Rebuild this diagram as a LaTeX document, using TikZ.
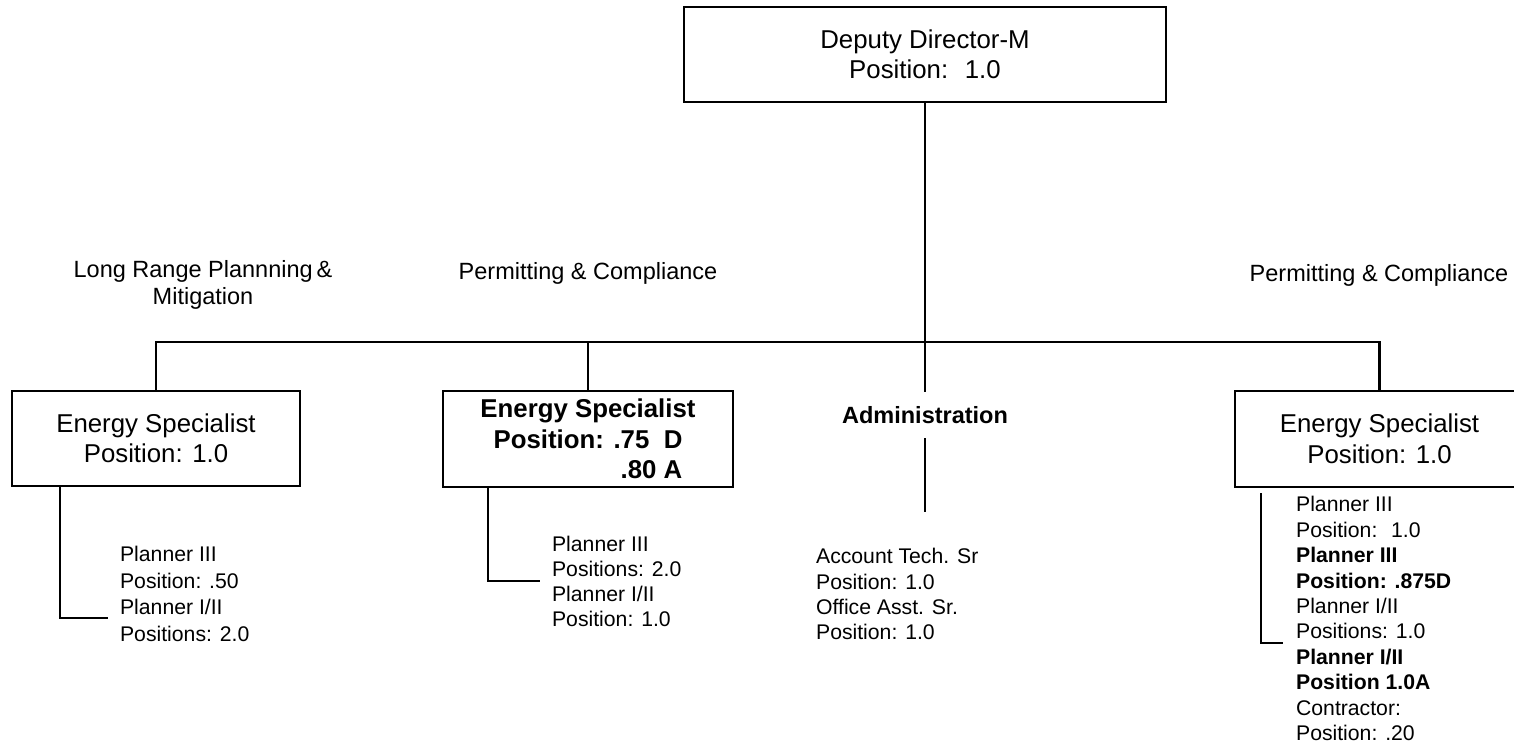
\documentclass[tikz,border=0pt]{standalone}
\usepackage{fontspec}
\usepackage{calc}
\setmainfont{Liberation Sans}
\begin{document}
\begin{tikzpicture}[x=1pt,y=-1pt,
  line width=2.2pt,
  post/.style={draw, rectangle, inner sep=0pt, align=center,
    font=\fontsize{25.8}{30.5}\selectfont},
  unit/.style={inner sep=0pt, anchor=north, align=center,
    font=\fontsize{23.5}{27}\selectfont},
  staff/.style={inner sep=0pt, anchor=north west, align=left,
    font=\fontsize{21.2}{25.4}\selectfont},
  ]
\useasboundingbox (0,0) rectangle (1514,744);

% director
\node[post, minimum width=482pt, minimum height=95pt] (dir) at (925,54.5)
  {Deputy Director-M\\Position:~ 1.0};

% unit headings
\node[unit] (lrpLabel) at (203,259.6) {Long Range Plannning\,\&\\Mitigation};
\node[unit] (pcLabelM) at (588,261.6) {Permitting \& Compliance};
\node[unit] (pcLabelR) at (1379,263.6) {Permitting \& Compliance};

% energy specialists
\node[post, minimum width=288pt, minimum height=95pt] (esL) at (156,438.5)
  {Energy Specialist\\Position: 1.0};
\node[post, minimum width=290pt, minimum height=96pt,
  font=\fontsize{25.8}{30.5}\selectfont\bfseries] (esM) at (588,439)
  {Energy Specialist\\Position: .75\ \ D\\
   \makebox[\widthof{Position: .75\ \ D}][r]{.80 A}};
\node[post, minimum width=289pt, minimum height=96pt] (esR) at (1379.5,439)
  {Energy Specialist\\Position: 1.0};

% administration
\node[inner xsep=0pt, inner ysep=13.5pt,
  font=\fontsize{23.5}{27}\selectfont\bfseries] (adm) at (925,415)
  {Administration};

% staff lists
\node[staff, font=\fontsize{21.2}{26.5}\selectfont] (plL) at (119,545.4)
  {Planner III\\Position: .50\\Planner I/II\\Positions: 2.0};
\node[staff, font=\fontsize{21.2}{25}\selectfont] (plM) at (551,535.4)
  {Planner III\\Positions: 2.0\\Planner I/II\\Position: 1.0};
\node[staff, font=\fontsize{21.2}{25.3}\selectfont] (admList) at (815,547.4)
  {Account Tech. Sr\\Position: 1.0\\Office Asst. Sr.\\Position: 1.0};
\node[staff] (plR) at (1295,495.4)
  {Planner III\\Position:~ 1.0\\\textbf{Planner III}\\\textbf{Position: .875D}\\
   Planner I/II\\Positions: 1.0\\\textbf{Planner I/II}\\\textbf{Position 1.0A}\\
   Contractor:\\Position: .20};

% free ends of connectors
\coordinate (admEnd) at (925,512);
\coordinate (lEnd) at (108,618);
\coordinate (mEnd) at (540,581);
\coordinate (rEnd) at (1283,643);

% reporting lines
\draw (dir.south) -- (adm.north);
\draw (adm.south) -- (admEnd);
\draw (esL.north) -- ++(0,-48) -| (esR.north);
\draw (esM.north) -- ++(0,-48);

\draw ([xshift=-96pt]esL.south) |- (lEnd);
\draw ([xshift=-100pt]esM.south) |- (mEnd);
\draw ([xshift=-118.5pt,yshift=-5pt]esR.south) |- (rEnd);
\end{tikzpicture}
\end{document}
